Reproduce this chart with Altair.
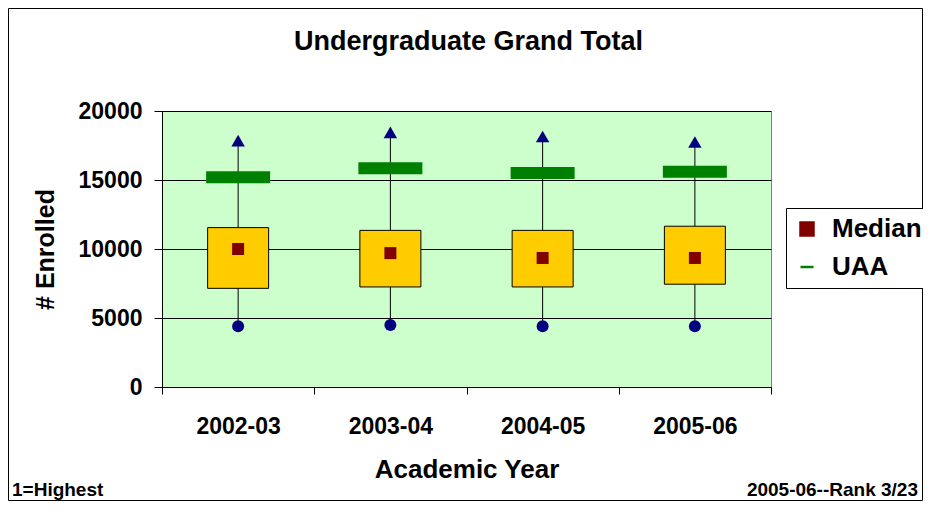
import altair as alt
import pandas as pd

# ---- data ----
years = ["2002-03", "2003-04", "2004-05", "2005-06"]
maximum = [17850, 18450, 18150, 17750]
minimum = [4400, 4500, 4400, 4400]
box_low = [7150, 7250, 7250, 7450]
box_high = [11550, 11350, 11350, 11650]
median = [10000, 9700, 9350, 9350]
uaa = [15200, 15850, 15500, 15600]
series_names = ["Median", "UAA"]
y_ticks = [0, 5000, 10000, 15000, 20000]

FONT = "Liberation Sans, Arial, Helvetica, sans-serif"
W, H = 609, 276

box_df = pd.DataFrame({"year": years, "lo": minimum, "hi": maximum,
                       "q1": box_low, "q3": box_high})
pts_df = pd.DataFrame({"year": years * 2, "value": median + uaa,
                       "series": ["Median"] * len(years) + ["UAA"] * len(years)})
one = pd.DataFrame({"k": [0]})

x_enc = alt.X("year:N", sort=years,
              scale=alt.Scale(paddingInner=0, paddingOuter=0),
              axis=alt.Axis(title="Academic Year", labelFontSize=23, titleFontSize=26,
                            tickSize=7, labelPadding=21, titlePadding=18,
                            tickBand="extent", labelAngle=0, grid=False))
y_scale = alt.Scale(domain=[0, 20000], nice=False)
y_axis = alt.Axis(title="# Enrolled", values=y_ticks, format="d", labelFontSize=23,
                  titleFontSize=25, tickSize=8, labelPadding=12, titlePadding=20,
                  grid=True, labelFlush=False, labelOverlap=False)

whisker = alt.Chart(box_df).mark_rule(color="black", strokeWidth=1).encode(
    x=x_enc, y=alt.Y("lo:Q", scale=y_scale, axis=y_axis), y2="hi:Q")

boxes = alt.Chart(box_df).mark_bar(width=61, color="#FFCC00", stroke="black",
                                   strokeWidth=1).encode(
    x=x_enc, y=alt.Y("q1:Q", scale=y_scale, axis=y_axis), y2="q3:Q")

min_pts = alt.Chart(box_df).mark_point(shape="circle", filled=True, size=144,
                                       color="#000080", opacity=1).encode(
    x=x_enc, y=alt.Y("lo:Q", scale=y_scale, axis=y_axis))

max_pts = alt.Chart(box_df).mark_point(shape="triangle-up", filled=True, size=180,
                                       color="#000080", opacity=1).encode(
    x=x_enc, y=alt.Y("hi:Q", scale=y_scale, axis=y_axis))

col_scale = alt.Scale(domain=series_names, range=["#800000", "#008000"])
series_pts = alt.Chart(pts_df).mark_point(opacity=1).encode(
    x=x_enc, y=alt.Y("value:Q", scale=y_scale, axis=y_axis),
    shape=alt.Shape("series:N", scale=alt.Scale(domain=series_names,
                                                range=["square", "stroke"]),
                    legend=alt.Legend(title=None)),
    fill=alt.Fill("series:N", scale=col_scale, legend=alt.Legend(title=None)),
    stroke=alt.Stroke("series:N", scale=col_scale, legend=alt.Legend(title=None)),
    size=alt.condition("datum.series == 'UAA'", alt.value(4096), alt.value(144)),
    strokeWidth=alt.condition("datum.series == 'UAA'", alt.value(12), alt.value(0)),
)

frame = alt.Chart(one).mark_rect(fill="transparent", stroke="black", strokeWidth=1).encode(
    x=alt.value(-153.5), x2=alt.value(W + 151.5),
    y=alt.value(-102.5), y2=alt.value(H + 113.5))

title = alt.Chart(one).mark_text(text="Undergraduate Grand Total", font=FONT,
                                 fontSize=27, fontWeight="bold", align="center",
                                 baseline="alphabetic", color="black").encode(
    x=alt.value(306.5), y=alt.value(-61))

note_left = alt.Chart(one).mark_text(text="1=Highest", font=FONT, fontSize=19,
                                     fontWeight="bold", align="left",
                                     baseline="alphabetic", color="black").encode(
    x=alt.value(-150), y=alt.value(H + 109))

note_right = alt.Chart(one).mark_text(text="2005-06--Rank 3/23", font=FONT, fontSize=19,
                                      fontWeight="bold", align="right",
                                      baseline="alphabetic", color="black").encode(
    x=alt.value(W + 147), y=alt.value(H + 109))

chart = alt.layer(
    frame, whisker, boxes, min_pts, max_pts, series_pts, title, note_left, note_right
).properties(
    width=W, height=H,
    autosize=alt.AutoSizeParams(type="none"),
    padding={"left": 154, "top": 103, "right": 152, "bottom": 115},
    background="white",
).configure_view(
    fill="#CCFFCC", stroke="#808080", strokeWidth=1
).configure_axis(
    labelFont=FONT, titleFont=FONT, labelFontWeight="bold", titleFontWeight="bold",
    labelColor="black", titleColor="black", domainColor="black", tickColor="black",
    gridColor="black", gridWidth=1, domainWidth=1, tickWidth=1
).configure_legend(
    orient="none", legendX=624, legendY=97, labelFont=FONT, labelFontSize=26,
    labelFontWeight="bold", labelColor="black", symbolSize=169, symbolStrokeWidth=2.5,
    labelOffset=12, rowPadding=12, padding=8, strokeColor="black", fillColor="white",
    cornerRadius=0
)

chart.save("out.html", embed_options={"renderer": "svg", "actions": False})
